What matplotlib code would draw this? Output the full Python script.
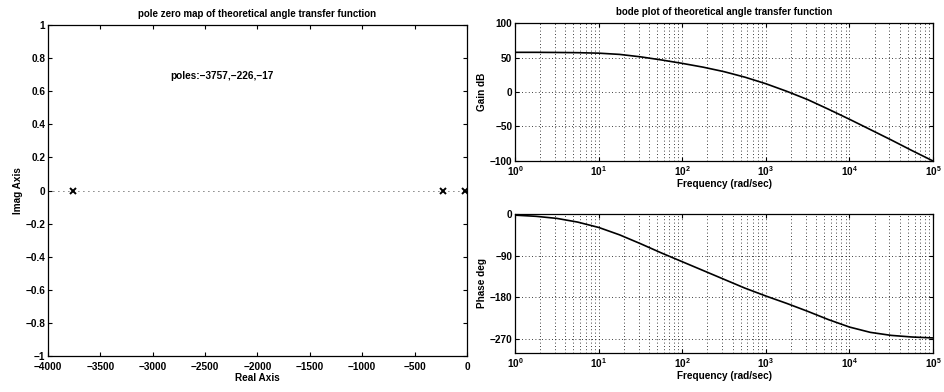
import matplotlib
matplotlib.use("Agg")
import matplotlib.pyplot as plt
from matplotlib.ticker import LogLocator, NullFormatter

plt.rcParams["font.family"] = ["Liberation Sans", "DejaVu Sans"]
plt.rcParams["font.weight"] = "bold"
plt.rcParams["axes.titleweight"] = "bold"
plt.rcParams["axes.labelweight"] = "bold"
plt.rcParams["mathtext.default"] = "bf"
plt.rcParams["font.size"] = 7.2

# pole zero map data
poles_re = [-3757, -226, -17]
poles_im = [0, 0, 0]
pole_text = "poles:\u22123757,\u2212226,\u221217"

# bode data (rad/sec, dB, deg)
freq = [1.0, 1.78, 3.16, 5.62, 10.0, 17.8, 31.6, 56.2, 100.0, 178.0, 316.0,
        562.0, 1000.0, 1780.0, 3160.0, 5620.0, 10000.0, 17800.0, 31600.0,
        56200.0, 100000.0]
gain_db = [57.5, 57.5, 57.3, 57, 56.3, 54.5, 51, 46.5, 41.5, 36, 29.5, 21.5,
           12, 1, -11, -25, -39.5, -54.5, -69.5, -85, -100]
phase_deg = [-2.5, -5, -9.5, -17.5, -29, -45, -64, -84, -103, -122, -141, -160,
             -177, -193, -210, -228, -244, -255.5, -262, -265.5, -267.5]

grid_style = dict(color="black", linestyle=(0, (1, 3)), linewidth=0.6)


def style_axes(ax):
    ax.tick_params(direction="in", top=True, right=True, length=3, width=0.8, pad=2)
    ax.tick_params(which="minor", length=0)
    for s in ax.spines.values():
        s.set_linewidth(0.9)


fig = plt.figure(figsize=(9.44, 3.92), dpi=100)

# pole zero map
ax1 = fig.add_axes([0.0508, 0.0918, 0.4439, 0.8444])
ax1.axhline(0, color="black", linestyle=(0, (1, 5)), linewidth=0.6)
ax1.axvline(0, color="black", linestyle=(0, (1, 5)), linewidth=0.6)
ax1.plot(poles_re, poles_im, "x", color="black", markersize=4.5, markeredgewidth=1.4)
ax1.text(-2830, 0.69, pole_text, ha="left", va="center")
ax1.set_xlim(-4000, 0)
ax1.set_ylim(-1, 1)
ax1.set_xticks(range(-4000, 1, 500))
ax1.set_yticks([-1, -0.8, -0.6, -0.4, -0.2, 0, 0.2, 0.4, 0.6, 0.8, 1])
ax1.set_yticklabels(["\u22121", "\u22120.8", "\u22120.6", "\u22120.4", "\u22120.2",
                     "0", "0.2", "0.4", "0.6", "0.8", "1"])
style_axes(ax1)
ax1.tick_params(axis="x", pad=4)
ax1.set_xlabel("Real Axis", labelpad=1)
ax1.set_ylabel("Imag Axis", labelpad=2)
ax1.set_title("pole zero map of theoretical angle transfer function", fontsize=7, pad=6)

# gain
ax2 = fig.add_axes([0.5456, 0.5893, 0.4428, 0.3520])
ax2.semilogx(freq, gain_db, color="black", linewidth=1.2)
ax2.set_xlim(1, 1e5)
ax2.set_ylim(-100, 100)
ax2.set_yticks([-100, -50, 0, 50, 100])
ax2.set_xlabel("Frequency (rad/sec)", labelpad=1)
ax2.set_ylabel("Gain dB", labelpad=2)
ax2.set_title("bode plot of theoretical angle transfer function", fontsize=7, pad=6)

# phase
ax3 = fig.add_axes([0.5456, 0.0995, 0.4428, 0.3546])
ax3.semilogx(freq, phase_deg, color="black", linewidth=1.2)
ax3.set_xlim(1, 1e5)
ax3.set_ylim(-300, 0)
ax3.set_yticks([-270, -180, -90, 0])
ax3.set_xlabel("Frequency (rad/sec)", labelpad=1)
ax3.set_ylabel("Phase deg", labelpad=2)

for ax in (ax2, ax3):
    ax.xaxis.set_major_locator(LogLocator(base=10, numticks=10))
    ax.xaxis.set_minor_locator(LogLocator(base=10, subs=range(2, 10), numticks=10))
    ax.xaxis.set_minor_formatter(NullFormatter())
    ax.grid(True, which="both", axis="x", **grid_style)
    ax.grid(True, which="major", axis="y", **grid_style)
    style_axes(ax)

plt.savefig("out.png", dpi=100)
